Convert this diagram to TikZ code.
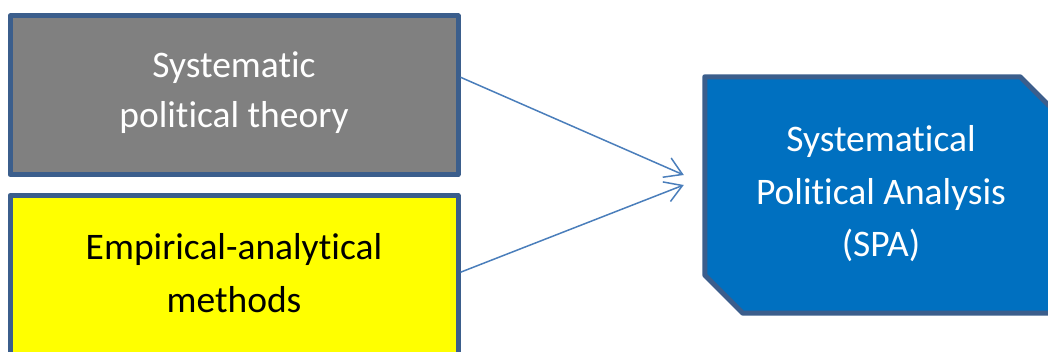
\documentclass[tikz,border=0pt]{standalone}
\usepackage{fontspec}
\setmainfont{Carlito}[Ligatures=NoCommon]
\usetikzlibrary{arrows.meta}
\definecolor{edge}{HTML}{3B5E8C}
\definecolor{boxgray}{HTML}{808080}
\definecolor{boxyellow}{HTML}{FFFF00}
\definecolor{boxblue}{HTML}{0070C0}
\definecolor{link}{HTML}{4A7EBB}
\tikzset{
  panel/.style={draw=edge, line width=5pt, rectangle, inner sep=0pt, line join=round},
  label/.style={anchor=base, inner sep=0pt, font=\fontsize{37.5pt}{52pt}\selectfont},
  link/.style={draw=link, line width=1.5pt, -{Straight Barb[length=17pt, width=21pt]}}
}
\begin{document}
\begin{tikzpicture}[x=1pt, y=-1pt]
  \useasboundingbox (0,0) rectangle (1048,352);
  % left-hand source boxes
  \node[panel, fill=boxgray, minimum width=448pt, minimum height=158.5pt] (g) at (234,95.25) {};
  \node[panel, fill=boxyellow, minimum width=448pt, minimum height=159.5pt] (y) at (234,275.25) {};
  % target box with two chamfered corners
  \node[inner sep=0pt, minimum width=353pt, minimum height=236pt] (b) at (881.5,195) {};
  \draw[draw=edge, fill=boxblue, line width=5pt, line join=round]
    (b.north west) -- ([xshift=-38pt]b.north east) -- ([yshift=-38pt]b.north east)
    -- (b.south east) -- ([xshift=38pt]b.south west) -- ([yshift=38pt]b.south west) -- cycle;
  % box texts
  \node[label, text=white] (g1) at (234,78) {Systematic};
  \node[label, text=white] (g2) at (234,128) {political theory};
  \node[label, text=black] (y1) at (234,260) {Empirical-analytical};
  \node[label, text=black] (y2) at (234,312) {methods};
  \node[label, text=white] (b1) at (881,152) {Systematical};
  \node[label, text=white] (b2) at (881,205) {Political Analysis};
  \node[label, text=white] (b3) at (881,257) {(SPA)};
  % connectors
  \draw[link] ([yshift=18pt]g.east) -- ([xshift=-21pt,yshift=20pt]b.west);
  \draw[link] ([yshift=3pt]y.east) -- ([xshift=-21pt,yshift=10pt]b.west);
\end{tikzpicture}
\end{document}
